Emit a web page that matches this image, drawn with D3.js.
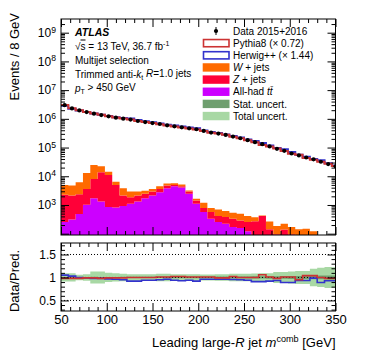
<!DOCTYPE html>
<html lang="en">
<head>
<meta charset="UTF-8">
<title>Leading large-R jet mass</title>
<script src="https://d3js.org/d3.v7.min.js"></script>
<style>
  html, body { margin: 0; background: #fff; }
  svg { display: block; }
  text { font-family: "Liberation Sans", Arial, Helvetica, sans-serif; fill: #000; }
  .axis path { stroke: none; }
  .axis line { stroke: #000; }
  .axis text { font-family: "Liberation Sans", Arial, sans-serif; }
</style>
</head>
<body>
<svg width="374" height="359"></svg>
<script>
// lower bin edges, 8 GeV wide
const binLow = [50, 58, 66, 74, 82, 90, 98, 106, 114, 122, 130, 138, 146, 154, 162, 170, 178, 186, 194,
  202, 210, 218, 226, 234, 242, 250, 258, 266, 274, 282, 290, 298, 306, 314, 322, 330, 338, 346];
const binWidth = 8;

// data 2015+2016 (events / bin)
const dataEvents = [3.0e6, 2.31e6, 1.97e6, 1.72e6, 1.51e6, 1.35e6, 1.22e6, 1.10e6, 1.01e6, 9.4e5,
  8.4e5, 7.7e5, 7.1e5, 6.6e5, 5.96e5, 5.5e5, 5.07e5, 4.69e5, 4.33e5, 3.78e5,
  3.33e5, 3.07e5, 2.75e5, 2.42e5, 2.11e5, 1.80e5, 1.54e5, 1.31e5, 1.09e5, 9.0e4,
  7.7e4, 6.2e4, 5.3e4, 4.5e4, 3.9e4, 3.2e4, 2.66e4, 2.22e4];

// stacked backgrounds
const ttbar = [256, 315, 484, 1015, 1730, 1320, 845, 818, 915, 1100, 1320, 1730, 2130, 2790, 3840, 4510, 4030, 2440, 1100,
  568, 333, 256, 223, 172, 159, 121, 90, 60, 45, 35, 30, 25, 20, 15, 12, 10, 8, 6];
const zjets = [1994, 1815, 1896, 2615, 6320, 12380, 10255, 4172, 1215, 770, 810, 710, 800, 840, 880, 480, 480, 490, 330,
  212, 235, 157, 158, 161, 131, 135, 180, 353, 97, 60, 110, 70, 65, 60, 55, 40, 30, 25];
const wjets = [2740, 2590, 3810, 9370, 16550, 8400, 3300, 1510, 1710, 1060, 800, 660, 700, 880, 830, 740, 660, 240, 210,
  410, 212, 285, 233, 204, 205, 157, 100, 20, 126, 91, 83, 77, 57, 75, 54, 40, 35, 30];

// Data / Pred. ratios
const ratioPythia = [0.98, 0.98, 0.98, 0.99, 0.99, 0.98, 0.99, 0.99, 0.99, 1.0, 1.0, 1.0, 1.0, 1.01, 1.01, 1.02, 1.02, 1.01, 1.01,
  1.01, 1.01, 0.99, 0.99, 1.02, 1.0, 1.0, 1.0, 1.06, 1.01, 0.98, 1.01, 1.01, 0.95, 1.04, 1.04, 1.0, 0.98, 0.98];
const ratioHerwig = [1.05, 1.03, 1.0, 0.99, 0.98, 0.98, 0.97, 0.96, 0.95, 0.92, 0.92, 0.94, 0.94, 0.95, 0.96, 0.94, 0.93, 0.94, 0.92,
  0.96, 0.96, 0.96, 0.96, 0.955, 0.95, 0.94, 0.91, 0.91, 0.92, 0.935, 0.89, 0.89, 0.935, 0.935, 0.985, 0.89, 0.93, 0.93];

// relative uncertainties (half widths)
const totalUnc = [0.09, 0.09, 0.06, 0.07, 0.13, 0.13, 0.10, 0.09, 0.08, 0.07, 0.07, 0.07, 0.07, 0.08, 0.08, 0.07, 0.07, 0.07, 0.07,
  0.065, 0.065, 0.07, 0.07, 0.08, 0.08, 0.08, 0.085, 0.09, 0.09, 0.12, 0.12, 0.13, 0.14, 0.14, 0.19, 0.21, 0.23, 0.22];
const statUnc = [0.012, 0.012, 0.012, 0.012, 0.013, 0.012, 0.012, 0.012, 0.013, 0.013, 0.013, 0.014, 0.014, 0.014, 0.015, 0.015, 0.016, 0.016, 0.017,
  0.018, 0.018, 0.019, 0.02, 0.021, 0.022, 0.023, 0.024, 0.025, 0.026, 0.028, 0.03, 0.031, 0.033, 0.035, 0.037, 0.04, 0.042, 0.045];

const xTicks = [50, 100, 150, 200, 250, 300, 350];
const yExponents = [3, 4, 5, 6, 7, 8, 9];
const ratioTicks = [0.5, 1, 1.5];

const colors = {
  w: "#ff6a00", z: "#ff0038", tt: "#cc00ff",
  pythia: "#cc3333", herwig: "#3333cc",
  stat: "#6f9f6f", total: "#a8d8a4"
};

const svg = d3.select("svg");
const X0 = 61, X1 = 335.5;
const MT = 19, MB = 235, RT = 243, RB = 311;

const x = d3.scaleLinear().domain([50, 350]).range([X0, X1]);
const y = d3.scaleLog().domain([90, 3e9]).range([MB, MT]).clamp(true);
const r = d3.scaleLinear().domain([0.27, 1.75]).range([RB, RT]);

const defs = svg.append("defs");
defs.append("clipPath").attr("id", "clipMain").append("rect")
  .attr("x", X0).attr("y", MT).attr("width", X1 - X0).attr("height", MB - MT);
defs.append("clipPath").attr("id", "clipRatio").append("rect")
  .attr("x", X0).attr("y", RT).attr("width", X1 - X0).attr("height", RB - RT);

// step helpers
function steps(vals) {
  return binLow.flatMap((lo, i) => [[lo, vals[i]], [lo + binWidth, vals[i]]]);
}

// ---------- main panel ----------
const main = svg.append("g").attr("clip-path", "url(#clipMain)");

const table = binLow.map((lo, i) => ({ lo, tt: ttbar[i], z: zjets[i], w: wjets[i] }));
const stacked = d3.stack().keys(["tt", "z", "w"])(table);

const area = d3.area()
  .x(p => x(p.x))
  .y0(p => y(Math.max(p.y0, 1)))
  .y1(p => y(p.y1));

stacked.forEach(s => {
  const pts = s.flatMap(d => [
    { x: d.data.lo, y0: d[0], y1: d[1] },
    { x: d.data.lo + binWidth, y0: d[0], y1: d[1] }
  ]);
  main.append("path").attr("d", area(pts)).attr("fill", colors[s.key]);
});

const line = d3.line().x(d => x(d[0])).y(d => y(d[1]));
const herwig = dataEvents.map((d, i) => d / ratioHerwig[i]);
const pythia = dataEvents.map((d, i) => d / ratioPythia[i]);

main.append("path").attr("d", line(steps(herwig)))
  .attr("fill", "none").attr("stroke", colors.herwig).attr("stroke-width", 2);
main.append("path").attr("d", line(steps(pythia)))
  .attr("fill", "none").attr("stroke", colors.pythia).attr("stroke-width", 2);

main.selectAll("circle.data").data(dataEvents).enter().append("circle")
  .attr("class", "data")
  .attr("cx", (d, i) => x(binLow[i] + binWidth / 2))
  .attr("cy", d => y(d))
  .attr("r", 2.1)
  .attr("fill", "#000");

// ---------- ratio panel ----------
const ratio = svg.append("g").attr("clip-path", "url(#clipRatio)");
const bandArea = d3.area().x(d => x(d[0])).y0(d => r(1 - d[1])).y1(d => r(1 + d[1]));
ratio.append("path").attr("d", bandArea(steps(totalUnc))).attr("fill", colors.total);
ratio.append("path").attr("d", bandArea(steps(statUnc))).attr("fill", colors.stat);

ratioTicks.forEach(t => {
  ratio.append("line")
    .attr("x1", X0).attr("x2", X1).attr("y1", r(t)).attr("y2", r(t))
    .attr("stroke", "#000").attr("stroke-width", 1).attr("stroke-dasharray", "1,2");
});

const rline = d3.line().x(d => x(d[0])).y(d => r(d[1]));
ratio.append("path").attr("d", rline(steps(ratioHerwig)))
  .attr("fill", "none").attr("stroke", colors.herwig).attr("stroke-width", 1.6);
ratio.append("path").attr("d", rline(steps(ratioPythia)))
  .attr("fill", "none").attr("stroke", colors.pythia).attr("stroke-width", 1.6);

// ---------- axes ----------
const xMinor = d3.range(50, 351, 10).filter(v => v % 50 !== 0);

function xAxes(top, bottom, labels) {
  svg.append("g").attr("class", "axis").attr("transform", `translate(0,${top})`)
    .call(d3.axisTop(x).tickValues(xTicks).tickSize(-8).tickFormat(""));
  svg.append("g").attr("class", "axis").attr("transform", `translate(0,${top})`)
    .call(d3.axisTop(x).tickValues(xMinor).tickSize(-4).tickFormat(""));
  svg.append("g").attr("class", "axis").attr("transform", `translate(0,${bottom})`)
    .call(d3.axisBottom(x).tickValues(xMinor).tickSize(-4).tickFormat(""));
  const gb = svg.append("g").attr("class", "axis").attr("transform", `translate(0,${bottom})`)
    .call(d3.axisBottom(x).tickValues(xTicks).tickSize(-8).tickPadding(4)
      .tickFormat(labels ? d3.format("d") : ""));
  gb.selectAll("text").attr("font-size", 13);
}
xAxes(MT, MB, false);
xAxes(RT, RB, true);

// main log y axis
const yMajor = [100].concat(yExponents.map(e => Math.pow(10, e)));
const yMinor = [];
for (let e = 1; e <= 9; e++) for (let k = 2; k <= 9; k++) {
  const v = k * Math.pow(10, e);
  if (v > 90 && v < 3e9) yMinor.push(v);
}
const yl = svg.append("g").attr("class", "axis").attr("transform", `translate(${X0},0)`)
  .call(d3.axisLeft(y).tickValues(yMajor).tickSize(-8).tickPadding(5)
    .tickFormat(d => d >= 1000 ? "10" : ""));
yl.selectAll("text").attr("font-size", 12)
  .append("tspan").attr("dy", "-0.5em").attr("font-size", "0.72em")
  .text(d => d >= 1000 ? Math.round(Math.log10(d)) : "");
svg.append("g").attr("class", "axis").attr("transform", `translate(${X0},0)`)
  .call(d3.axisLeft(y).tickValues(yMinor).tickSize(-4).tickFormat(""));
svg.append("g").attr("class", "axis").attr("transform", `translate(${X1},0)`)
  .call(d3.axisRight(y).tickValues(yMajor).tickSize(-8).tickFormat(""));
svg.append("g").attr("class", "axis").attr("transform", `translate(${X1},0)`)
  .call(d3.axisRight(y).tickValues(yMinor).tickSize(-4).tickFormat(""));

// ratio y axis
const rMinor = d3.range(3, 18).map(v => v / 10).filter(v => v % 0.5 !== 0 && Math.abs(v * 2 - Math.round(v * 2)) > 1e-6);
const rl = svg.append("g").attr("class", "axis").attr("transform", `translate(${X0},0)`)
  .call(d3.axisLeft(r).tickValues(ratioTicks).tickSize(-8).tickPadding(5).tickFormat(d => d === 1 ? "1" : d3.format(".1f")(d)));
rl.selectAll("text").attr("font-size", 12);
svg.append("g").attr("class", "axis").attr("transform", `translate(${X0},0)`)
  .call(d3.axisLeft(r).tickValues(rMinor).tickSize(-4).tickFormat(""));
svg.append("g").attr("class", "axis").attr("transform", `translate(${X1},0)`)
  .call(d3.axisRight(r).tickValues(ratioTicks).tickSize(-8).tickFormat(""));
svg.append("g").attr("class", "axis").attr("transform", `translate(${X1},0)`)
  .call(d3.axisRight(r).tickValues(rMinor).tickSize(-4).tickFormat(""));

// frames
[[MT, MB], [RT, RB]].forEach(([t, b]) => {
  svg.append("rect").attr("x", X0).attr("y", t).attr("width", X1 - X0).attr("height", b - t)
    .attr("fill", "none").attr("stroke", "#000").attr("stroke-width", 1);
});

// ---------- axis titles ----------
svg.append("text")
  .attr("transform", "translate(18.5,13) rotate(-90)")
  .attr("text-anchor", "end").attr("font-size", 13)
  .text("Events / 8 GeV");
svg.append("text")
  .attr("transform", "translate(18.5,281) rotate(-90)")
  .attr("text-anchor", "middle").attr("font-size", 13)
  .text("Data/Pred.");

const xt = svg.append("text").attr("x", X1).attr("y", 346.5)
  .attr("text-anchor", "end").attr("font-size", 13);
xt.append("tspan").text("Leading large-");
xt.append("tspan").attr("font-style", "italic").text("R");
xt.append("tspan").text(" jet ");
xt.append("tspan").attr("font-style", "italic").text("m");
xt.append("tspan").attr("font-size", "0.7em").attr("dy", "-0.5em").text("comb");
xt.append("tspan").attr("dy", "0.35em").text(" [GeV]");

// ---------- labels ----------
const lab = svg.append("g").attr("font-size", 10);
lab.append("text").attr("x", 75).attr("y", 35.7)
  .attr("font-weight", "bold").attr("font-style", "italic").attr("font-size", 10.5).text("ATLAS");
const l2 = lab.append("text").attr("x", 75).attr("y", 49.5);
l2.append("tspan").text("\u221A");
l2.append("tspan").attr("text-decoration", "overline").text("s");
l2.append("tspan").text(" = 13 TeV, 36.7 fb");
l2.append("tspan").attr("font-size", "0.7em").attr("dy", "-0.5em").text("-1");
lab.append("text").attr("x", 75).attr("y", 64.3).text("Multijet selection");
const l4 = lab.append("text").attr("x", 75).attr("y", 78.3);
l4.append("tspan").text("Trimmed anti-");
l4.append("tspan").attr("font-style", "italic").text("k");
l4.append("tspan").attr("font-size", "0.7em").attr("dy", "0.3em").text("t");
l4.append("tspan").attr("dy", "-0.3em").text(" ");
l4.append("tspan").attr("font-style", "italic").text("R");
l4.append("tspan").text("=1.0 jets");
const l5 = lab.append("text").attr("x", 75).attr("y", 92.3);
l5.append("tspan").attr("font-style", "italic").text("p");
l5.append("tspan").attr("font-size", "0.7em").attr("dy", "0.3em").text("T");
l5.append("tspan").attr("dy", "-0.3em").text(" > 450 GeV");

// ---------- legend ----------
const legendRows = [
  { type: "data", label: ["Data 2015+2016"] },
  { type: "open", color: colors.pythia, label: ["Pythia8 (\u00D7 0.72)"] },
  { type: "open", color: colors.herwig, label: ["Herwig++ (\u00D7 1.44)"] },
  { type: "fill", color: colors.w, label: ["W", " + jets"] },
  { type: "fill", color: colors.z, label: ["Z", " + jets"] },
  { type: "fill", color: colors.tt, label: ["All-had ", "tt\u0304"] },
  { type: "fill", color: colors.stat, label: ["Stat. uncert."] },
  { type: "fill", color: colors.total, label: ["Total uncert."] }
];
const lg = svg.append("g");
legendRows.forEach((row, i) => {
  const cy = 31 + i * 12.15;
  if (row.type === "data") {
    lg.append("line").attr("x1", 216).attr("x2", 216).attr("y1", cy - 4).attr("y2", cy + 4)
      .attr("stroke", "#000").attr("stroke-width", 1);
    lg.append("circle").attr("cx", 216).attr("cy", cy).attr("r", 2.1).attr("fill", "#000");
  } else if (row.type === "open") {
    lg.append("rect").attr("x", 203.5).attr("y", cy - 3.6).attr("width", 25.5).attr("height", 7.2)
      .attr("fill", "#fff").attr("stroke", row.color).attr("stroke-width", 1.6);
  } else {
    lg.append("rect").attr("x", 202.7).attr("y", cy - 4.2).attr("width", 26.8).attr("height", 8.4)
      .attr("fill", row.color);
  }
  const t = lg.append("text").attr("x", 233).attr("y", cy + 3.6).attr("font-size", 10);
  if (row.label.length === 1) {
    t.text(row.label[0]);
  } else if (row.type === "fill" && i === 5) {
    t.append("tspan").text(row.label[0]);
    t.append("tspan").attr("font-style", "italic").text(row.label[1]);
  } else {
    t.append("tspan").attr("font-style", "italic").text(row.label[0]);
    t.append("tspan").text(row.label[1]);
  }
});
</script>
</body>
</html>
